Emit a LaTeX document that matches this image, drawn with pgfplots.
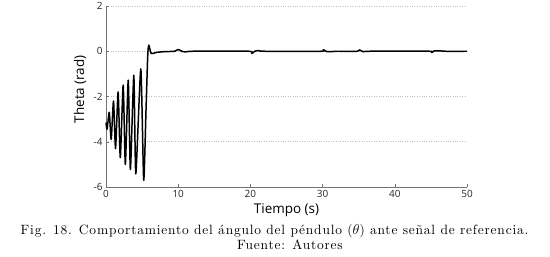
\documentclass[border=0pt]{standalone}
\usepackage{fontspec}
\usepackage{pgfplots}
\pgfplotsset{compat=1.18}
\newfontfamily\axisfont{Open Sans}
\newfontfamily\capfont{lmroman10-regular.otf}[LetterSpace=6]
\begin{document}
\begin{tikzpicture}
\begin{axis}[
  at={(0,0)}, anchor=south west,
  scale only axis, width=361bp, height=181bp,
  xmin=0, xmax=50, ymin=-6, ymax=2,
  axis lines=left,
  axis line style={-, draw=black!55, line width=0.5pt},
  xtick={0,10,20,30,40,50},
  ytick={-6,-4,-2,0,2},
  tick align=inside,
  major tick length=3bp,
  tick style={draw=black!55, line width=0.5pt},
  ymajorgrids,
  grid style={dotted, draw=black!25, line width=0.6pt},
  /pgf/number format/assume math mode=true,
  ticklabel style={font=\axisfont\fontsize{10}{12}\selectfont, text=black!85},
  xlabel={\axisfont\fontsize{13.5}{15}\selectfont Tiempo (s)},
  ylabel={\axisfont\fontsize{13.5}{15}\selectfont Theta (rad)},
  xlabel style={at={(axis description cs:0.5,0)}, anchor=north, yshift=-13bp},
  ylabel style={at={(axis description cs:-0.072,0.54)}, anchor=center},
  clip=false,
]
\addplot[black, line width=1.5pt, line join=round, smooth, tension=0.35] coordinates {
(0,-3.15) (0.15,-3.45) (0.45,-2.7) (0.72,-3.9) (1.04,-2.2) (1.32,-4.3)
(1.68,-1.8) (1.98,-4.7) (2.38,-1.5) (2.68,-5.0) (3.08,-1.28) (3.38,-5.23)
(3.85,-1.06) (4.13,-5.42) (4.82,-0.78) (5.22,-5.7) (5.55,-2.5) (5.78,-0.2)
(5.93,0.27) (6.26,-0.1) (7,-0.05) (8,-0.02) (9.5,0) (10,0.08) (10.5,0.0)
(11,-0.03) (12,0) (19.8,0) (20.2,-0.1) (20.6,0.0) (21,0.03) (22,0)
(29.8,0) (30.1,0.07) (30.6,-0.02) (31.5,-0.01) (32,0) (34.8,0) (35.1,0.06)
(35.6,-0.02) (36.5,0) (44.8,0) (45.1,-0.06) (45.5,0.02) (46.5,0.01) (47,0) (50,0)
};
\end{axis}
\node[font=\capfont\fontsize{13.5}{15}\selectfont, anchor=base, inner sep=0pt] at (168.5bp,-47bp) {Fig. 18. Comportamiento del ángulo del péndulo ($\theta$) ante señal de referencia.};
\node[font=\capfont\fontsize{13.5}{15}\selectfont, anchor=base, inner sep=0pt] at (184bp,-62bp) {Fuente: Autores};
\pgfresetboundingbox
\useasboundingbox (-106bp,-70bp) rectangle (444bp,187bp);
\end{tikzpicture}
\end{document}
